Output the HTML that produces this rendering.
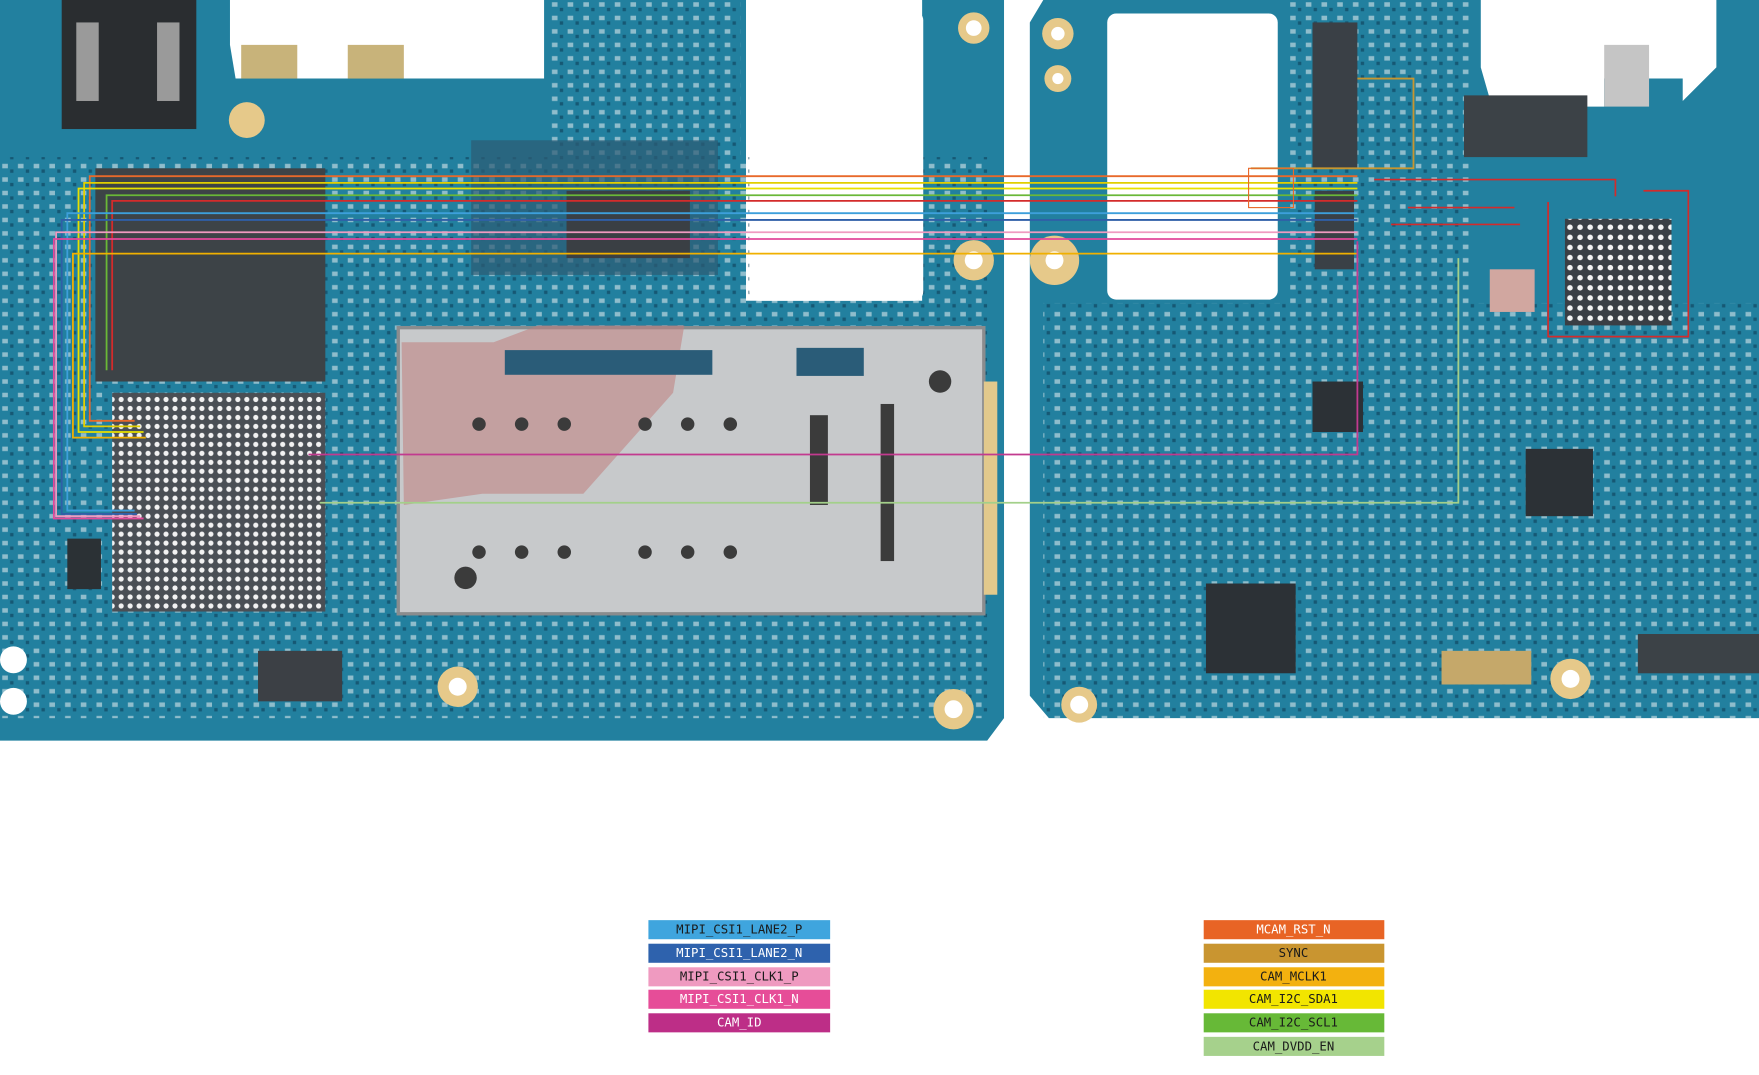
<!DOCTYPE html>
<html><head><meta charset="utf-8"><style>
html,body{margin:0;padding:0;background:#fff;}
svg{display:block;}
</style></head><body>
<svg width="1759" height="1075" viewBox="0 0 1568 958" preserveAspectRatio="none" xmlns="http://www.w3.org/2000/svg">
<defs>
<pattern id="pads" width="14" height="12" patternUnits="userSpaceOnUse">
<rect x="2" y="2" width="5" height="4" fill="#e8eef0" opacity="0.55"/>
<rect x="9" y="7" width="3" height="3" fill="#0e3e57" opacity="0.6"/>
</pattern>
<pattern id="bga" width="8" height="8" patternUnits="userSpaceOnUse">
<rect width="8" height="8" fill="#4a4f55"/>
<circle cx="4" cy="4" r="2.3" fill="#f2f2f2"/>
</pattern>
<pattern id="bga2" width="9" height="9" patternUnits="userSpaceOnUse">
<rect width="9" height="9" fill="#3a3f45"/>
<circle cx="4.5" cy="4.5" r="2.5" fill="#f4f4f4"/>
</pattern>
</defs>
<rect width="1568" height="958" fill="#fff"/>
<path d="M0 0 H205 V40 L210 70 H485 V0 H665 V268 H822 V0 H895 V640 L880 660 H0 Z" fill="#22809f"/>
<rect x="0" y="140" width="880" height="500" fill="url(#pads)"/>
<rect x="490" y="0" width="170" height="140" fill="url(#pads)"/>
<rect x="668" y="10" width="155" height="258" rx="8" fill="#fff"/>
<rect x="55" y="0" width="120" height="115" fill="#2a2d30"/>
<rect x="68" y="20" width="20" height="70" fill="#9a9a9a"/>
<rect x="140" y="20" width="20" height="70" fill="#9a9a9a"/>
<rect x="215" y="40" width="50" height="30" fill="#c8b37a"/>
<rect x="310" y="40" width="50" height="30" fill="#c8b37a"/>
<rect x="85" y="150" width="205" height="190" fill="#3d4347"/>
<rect x="100" y="350" width="190" height="195" fill="url(#bga)"/>
<rect x="420" y="125" width="220" height="120" fill="#2c5b73" opacity="0.7"/>
<rect x="505" y="170" width="110" height="60" fill="#3a3f44"/>
<rect x="355" y="292" width="522" height="255" fill="#c7c9cb"/>
<rect x="355" y="292" width="522" height="255" fill="none" stroke="#8a8c8e" stroke-width="3"/>
<path d="M358 305 H440 L480 290 H610 L600 350 L520 440 H430 L360 450 Z" fill="#c07d7d" opacity="0.55"/>
<rect x="450" y="312" width="185" height="22" fill="#2a5c78"/>
<rect x="710" y="310" width="60" height="25" fill="#2a5c78"/>
<rect x="877" y="340" width="12" height="190" fill="#e2c98c"/>
<g fill="#3b3b3b">
<circle cx="427" cy="378" r="6"/><circle cx="465" cy="378" r="6"/><circle cx="503" cy="378" r="6"/>
<circle cx="575" cy="378" r="6"/><circle cx="613" cy="378" r="6"/><circle cx="651" cy="378" r="6"/>
<circle cx="427" cy="492" r="6"/><circle cx="465" cy="492" r="6"/><circle cx="503" cy="492" r="6"/>
<circle cx="575" cy="492" r="6"/><circle cx="613" cy="492" r="6"/><circle cx="651" cy="492" r="6"/>
<circle cx="415" cy="515" r="10"/><circle cx="838" cy="340" r="10"/>
<rect x="722" y="370" width="16" height="80"/><rect x="785" y="360" width="12" height="140"/>
</g>
<g fill="#e6c98a"><circle cx="868" cy="25" r="14"/><circle cx="868" cy="232" r="18"/><circle cx="850" cy="632" r="18"/><circle cx="408" cy="612" r="18"/><circle cx="220" cy="107" r="16"/></g>
<g fill="#fff"><circle cx="868" cy="25" r="7"/><circle cx="868" cy="232" r="8"/><circle cx="850" cy="632" r="8"/><circle cx="408" cy="612" r="8"/><circle cx="12" cy="588" r="12"/><circle cx="12" cy="625" r="12"/></g>
<rect x="60" y="480" width="30" height="45" fill="#2b3135"/>
<rect x="230" y="580" width="75" height="45" fill="#3c4045"/>
<path d="M930 0 H1320 V60 L1330 95 H1430 V70 H1500 V90 L1530 60 V0 H1568 V640 H935 L918 620 V20 Z" fill="#22809f"/>
<rect x="930" y="270" width="638" height="370" fill="url(#pads)"/>
<rect x="1150" y="0" width="160" height="270" fill="url(#pads)"/>
<rect x="987" y="12" width="152" height="255" rx="8" fill="#fff"/>
<rect x="1170" y="20" width="40" height="130" fill="#3a4046"/>
<rect x="1172" y="170" width="35" height="70" fill="#3a4046"/>
<rect x="1305" y="85" width="110" height="55" fill="#3c4247"/>
<rect x="1395" y="195" width="95" height="95" fill="url(#bga2)"/>
<rect x="1328" y="240" width="40" height="38" fill="#d1a7a0"/>
<rect x="1075" y="520" width="80" height="80" fill="#2c3136"/>
<rect x="1170" y="340" width="45" height="45" fill="#2c3136"/>
<rect x="1360" y="400" width="60" height="60" fill="#2c3136"/>
<rect x="1460" y="565" width="108" height="35" fill="#3c4247"/>
<rect x="1285" y="580" width="80" height="30" fill="#c5a86a"/>
<rect x="1430" y="40" width="40" height="55" fill="#c5c5c5"/>
<g fill="#e6c98a"><circle cx="943" cy="30" r="14"/><circle cx="943" cy="70" r="12"/><circle cx="940" cy="232" r="22"/><circle cx="962" cy="628" r="16"/><circle cx="1400" cy="605" r="18"/></g>
<g fill="#fff"><circle cx="943" cy="30" r="6"/><circle cx="943" cy="70" r="5"/><circle cx="940" cy="232" r="8"/><circle cx="962" cy="628" r="8"/><circle cx="1400" cy="605" r="8"/></g>
<g stroke="#d42b2b" stroke-width="1.5" fill="none">
<path d="M1225 160 H1440 V175 M1255 185 H1350 M1380 180 V300 H1505 V170 H1465 M1240 200 H1355"/>
</g>
<g fill="none" stroke-width="1.6">
<path d="M1210 157 H80 V375 H120" stroke="#e8692a"/>
<path d="M1210 163 H75 V380 H125" stroke="#e2cf00"/>
<path d="M1210 168 H70 V385 H128" stroke="#e8e000"/>
<path d="M1210 174 H95 V330" stroke="#6ab837"/>
<path d="M1210 179 H100 V330" stroke="#d42b2b"/>
<path d="M1210 190 H60 V455 H120" stroke="#3d9fdb"/>
<path d="M1210 196 H55 V458 H122" stroke="#2f5fa8"/>
<path d="M1210 207 H50 V460 H125" stroke="#ef9ac0"/>
<path d="M1210 213 H48 V462 H128" stroke="#e2489a"/>
<path d="M1210 226 H65 V390 H130" stroke="#f0b000"/>
<path d="M1210 215 V405 H275" stroke="#c23a8f"/>
<path d="M1300 230 V448 H285" stroke="#a3d08a"/>
<path d="M1115 150 H1260 V70 H1210" stroke="#c8962f"/>
</g>
<rect x="1113" y="150" width="40" height="35" fill="none" stroke="#e8692a" stroke-width="1"/>
<g font-family="'DejaVu Sans Mono','Liberation Mono',monospace" font-size="11" text-anchor="middle">
<rect x="578" y="820" width="162" height="17" fill="#3fa5de"/><text x="659" y="832" fill="#1a1a1a">MIPI_CSI1_LANE2_P</text>
<rect x="578" y="841" width="162" height="17" fill="#2e62ad"/><text x="659" y="853" fill="#fff">MIPI_CSI1_LANE2_N</text>
<rect x="578" y="862" width="162" height="17" fill="#ef9ac0"/><text x="659" y="874" fill="#1a1a1a">MIPI_CSI1_CLK1_P</text>
<rect x="578" y="882" width="162" height="17" fill="#e64d98"/><text x="659" y="894" fill="#fff">MIPI_CSI1_CLK1_N</text>
<rect x="578" y="903" width="162" height="17" fill="#bd2e87"/><text x="659" y="915" fill="#fff">CAM_ID</text>
<rect x="1073" y="820" width="161" height="17" fill="#e86425"/><text x="1153" y="832" fill="#fff">MCAM_RST_N</text>
<rect x="1073" y="841" width="161" height="17" fill="#c99530"/><text x="1153" y="853" fill="#1a1a1a">SYNC</text>
<rect x="1073" y="862" width="161" height="17" fill="#f3b10f"/><text x="1153" y="874" fill="#1a1a1a">CAM_MCLK1</text>
<rect x="1073" y="882" width="161" height="17" fill="#f2e500"/><text x="1153" y="894" fill="#1a1a1a">CAM_I2C_SDA1</text>
<rect x="1073" y="903" width="161" height="17" fill="#67b937"/><text x="1153" y="915" fill="#1a1a1a">CAM_I2C_SCL1</text>
<rect x="1073" y="924" width="161" height="17" fill="#a6d18c"/><text x="1153" y="936" fill="#1a1a1a">CAM_DVDD_EN</text>
</g>
</svg>
</body></html>
